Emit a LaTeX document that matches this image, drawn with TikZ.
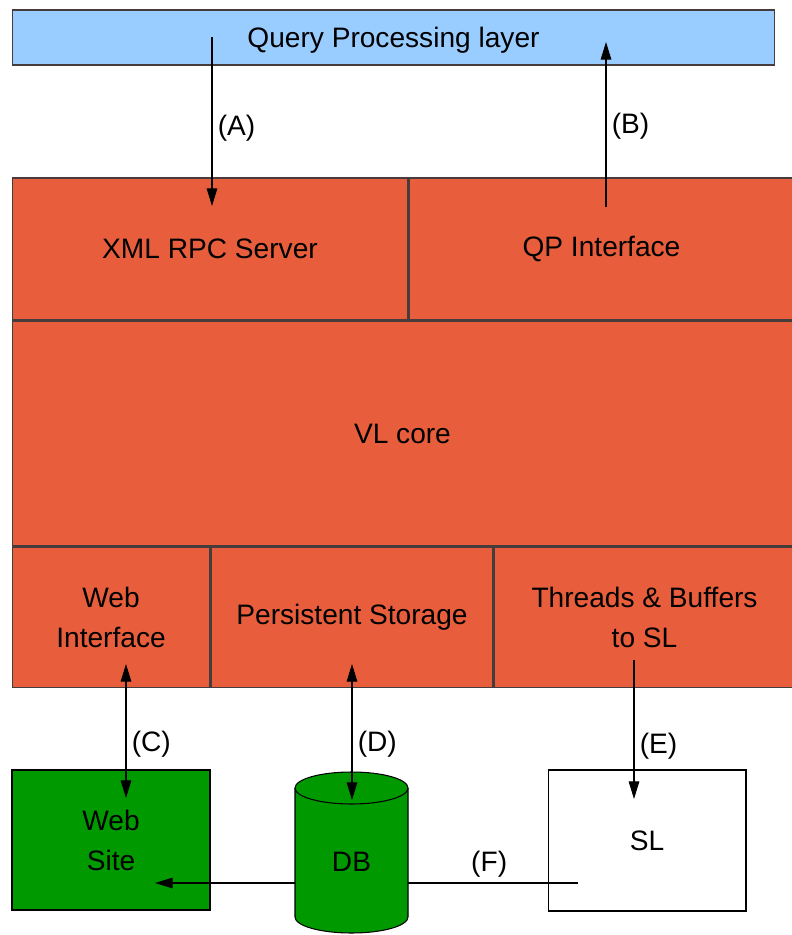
\documentclass[tikz,border=0pt]{standalone}
\usepackage{fontspec}
\setmainfont{Liberation Sans}
\usepackage{tikz}
\usetikzlibrary{arrows.meta,positioning}
\definecolor{qpblue}{RGB}{153,204,255}
\definecolor{vlorange}{RGB}{232,94,60}
\definecolor{webgreen}{RGB}{0,153,0}
\definecolor{edgegray}{RGB}{70,60,60}
\tikzstyle{link} = [line width=0.6pt,-{Triangle[length=10pt,width=6pt]},black]
\tikzstyle{dlink} = [line width=0.6pt,{Triangle[length=10pt,width=6pt]}-{Triangle[length=10pt,width=6pt]},black]

\begin{document}
\begin{tikzpicture}[x=0.02cm, y=-0.02cm,
    font=\fontsize{16}{22.8}\selectfont,
    layer/.style={rectangle, draw=edgegray, fill=qpblue, line width=0.6pt, inner sep=0pt},
    part/.style={rectangle, draw=edgegray, fill=vlorange, line width=0.6pt, inner sep=0pt, align=center},
    site/.style={rectangle, draw=black, fill=webgreen, line width=0.6pt, inner sep=0pt, align=center},
    sub/.style={rectangle, draw=black, fill=white, line width=0.6pt, inner sep=0pt},
    dbbody/.style={draw=black, fill=webgreen, line width=0.6pt},
    tag/.style={inner sep=3pt}]
\useasboundingbox (0,0) rectangle (791,935);

% Query processing layer
\node[layer, minimum width=15.26cm, minimum height=1.10cm, text depth=0pt] (qp) at (393.5,37.5) {Query Processing layer};

% VL blocks
\node[part, minimum width=7.92cm, minimum height=2.84cm] (xmlrpc) at (210,249) {XML RPC Server};
\node[part, minimum width=7.7cm, minimum height=2.84cm, right=0pt of xmlrpc] (qpif) {QP Interface};
\node[part, minimum width=15.62cm, minimum height=4.50cm, below=0pt of xmlrpc.south west, anchor=north west] (vlcore) {VL core};
\node[part, minimum width=3.96cm, minimum height=2.80cm, below=0pt of vlcore.south west, anchor=north west] (webif) {Web\\Interface};
\node[part, minimum width=5.64cm, minimum height=2.80cm, right=0pt of webif] (pstore) {Persistent Storage};
\node[part, minimum width=6.02cm, minimum height=2.80cm, right=0pt of pstore] (threads) {Threads \& Buffers\\to SL};

% Outside
\node[site, minimum width=3.96cm, minimum height=2.80cm] (website) at (111,840) {Web\\Site};
\node[sub, minimum width=3.96cm, minimum height=2.82cm] (sl) at (647,840.5) {SL};

% (F) runs behind the DB
\coordinate (fstart) at (578,883);
\coordinate (fend) at (155,883);
\draw[link] (fstart) -- node[tag, above, pos=0.21] {(F)} (fend);

% DB cylinder
\draw[dbbody] (295,788) -- (295,917) arc[start angle=180, end angle=0, x radius=56.5, y radius=16] -- (408,788);
\draw[dbbody] (351.5,788) ellipse [x radius=56.5, y radius=16];
\node (db) at (351.5,862) {DB};
\coordinate (dbtop) at (352,800);

% Connections
\coordinate (astart) at (212,37);
\coordinate (aend) at (212,206);
\draw[link] (astart) -- node[tag, right, pos=0.54] {(A)} (aend);
\coordinate (bstart) at (606,207);
\coordinate (bend) at (606,42);
\draw[link] (bstart) -- node[tag, right, pos=0.49] {(B)} (bend);
\coordinate (cweb) at (126,664);
\coordinate (csite) at (126,798);
\draw[dlink] (cweb) -- node[tag, right, pos=0.6] {(C)} (csite);
\coordinate (dstore) at (352,664);
\draw[dlink] (dstore) -- node[tag, right, pos=0.59] {(D)} (dbtop);
\coordinate (ethr) at (634,660);
\coordinate (esl) at (634,799);
\draw[link] (ethr) -- node[tag, right, pos=0.62] {(E)} (esl);
\end{tikzpicture}
\end{document}
